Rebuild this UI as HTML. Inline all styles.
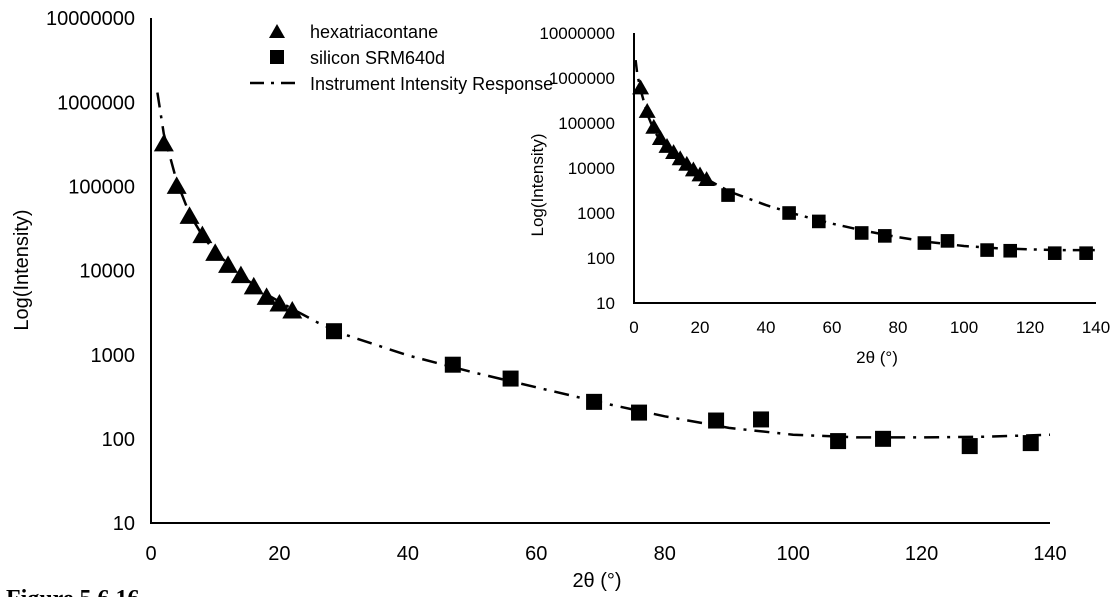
<!DOCTYPE html>
<html><head><meta charset="utf-8"><style>
body{margin:0;background:#fff;width:1116px;height:597px;overflow:hidden}
svg{display:block}
text{font-family:"Liberation Sans",sans-serif;fill:#000}
</style></head><body>
<svg id="c" width="1116" height="597"></svg>
<script>
const triX=[2,4,6,8,10,12,14,16,18,20,22];
const triY=[320000,100000,44000,26000,16000,11500,8700,6400,4800,4000,3300];
const sqX=[28.5,47,56,69,76,88,95,107,114,127.5,137];
const sqY=[1900,760,520,275,205,165,170,94,100,82,89];
const curveX=[1,2,4,6,8,10,14,18,22,26,30,40,50,60,70,80,90,100,110,120,130,140];
const curveY=[1300000,420000,115000,47000,26000,16500,8800,5200,3500,2400,1750,980,620,410,270,185,135,112,104,104,106,112];
const inTriY=[600000,180000,80000,45000,30000,22000,16000,12000,9000,7000,5500];
const inSqY=[2500,1000,650,360,310,215,240,150,145,128,128];
const inCurveX=[0.5,1,2,4,6,8,10,14,18,22,26,30,40,50,60,70,80,90,100,110,120,130,140];
const inCurveY=[2500000,1200000,550000,160000,70000,40000,26000,14500,8800,5700,3900,2800,1500,900,580,400,290,225,185,165,155,150,150];
const yTicks=["10","100","1000","10000","100000","1000000","10000000"];
const xTicks=[0,20,40,60,80,100,120,140];
const NS="http://www.w3.org/2000/svg";
const svg=document.getElementById('c');
function mk(t,a,p){const e=document.createElementNS(NS,t);for(const k in a)e.setAttribute(k,a[k]);(p||svg).appendChild(e);return e;}
function drawChart(o){
  const g=mk('g',{});
  
  
  const sx=v=>o.x0+(v/140)*(o.x1-o.x0);
  const sy=v=>o.yb-(Math.log10(v)-1)/6*(o.yb-o.yt);
  const ax=mk('path',{d:`M${o.x0},${o.yt}V${o.yb}H${o.x1}`,stroke:'#000','stroke-width':2,fill:'none'},g);
  
  yTicks.forEach(t=>{const e=mk('text',{x:o.x0-o.lblGap,y:sy(+t)+o.fs*0.36,'text-anchor':'end','font-size':o.fs},g);e.textContent=t;
    });
  xTicks.forEach(t=>{const e=mk('text',{x:sx(t),y:o.yb+o.xlg,'text-anchor':'middle','font-size':o.fs},g);e.textContent=t;
    });
  const yt=mk('text',{transform:`translate(${o.ytx},${o.yty}) rotate(-90)`,'text-anchor':'middle','font-size':o.fs},g);yt.textContent='Log(Intensity)';
  
  const xt=mk('text',{x:o.xtx,y:o.xty,'text-anchor':'middle','font-size':o.fs},g);xt.textContent='2θ (°)';
  
  const d=o.cx.map((v,i)=>(i?'L':'M')+sx(v).toFixed(1)+','+sy(o.cy[i]).toFixed(1)).join('');
  const ln=mk('path',{d,stroke:'#000','stroke-width':2.5,fill:'none','stroke-dasharray':o.dash},g);
  
  const m=o.ms;
  triX.forEach((v,i)=>{const x=sx(v),y=sy(o.ty[i]);
    const p=mk('path',{d:`M${x},${y-m}L${x+m},${y+m*0.75}L${x-m},${y+m*0.75}Z`,fill:'#000'},g);
    });
  sqX.forEach((v,i)=>{const x=sx(v),y=sy(o.sy2[i]);
    const r=mk('rect',{x:x-m*0.8,y:y-m*0.8,width:m*1.6,height:m*1.6,fill:'#000'},g);
    });
}
drawChart({name:'main-chart',x0:151,x1:1050,yt:18,yb:523,fs:20,lblGap:16,xlg:37,ytx:28,yty:270,xtx:597,xty:587,
  cx:curveX,cy:curveY,ty:triY,sy2:sqY,ms:10,dash:'15,8,3,8'});
drawChart({name:'inset-chart',x0:634,x1:1096,yt:33,yb:303,fs:17,lblGap:19,xlg:30,ytx:543,yty:185,xtx:877,xty:363,
  cx:inCurveX,cy:inCurveY,ty:inTriY,sy2:inSqY,ms:8.5,dash:'12,7,3,7'});
// legend
const lg=mk('g',{});
mk('path',{d:'M277,24L285,38L269,38Z',fill:'#000'},lg);
mk('rect',{x:270,y:50,width:14,height:14,fill:'#000'},lg);
mk('path',{d:'M250,83H297',stroke:'#000','stroke-width':2.5,'stroke-dasharray':'14,7,3,7'},lg);
[['hexatriacontane',38],['silicon SRM640d',64],['Instrument Intensity Response',90]].forEach(([t,y])=>{
  const e=mk('text',{x:310,y:y,'font-size':18},lg);e.textContent=t;
  });
const f=mk('text',{x:6,y:606,'font-size':24,'font-weight':'bold',style:'font-family:"Liberation Serif",serif'});
f.textContent='Figure 5.6.16';

</script>
</body></html>
